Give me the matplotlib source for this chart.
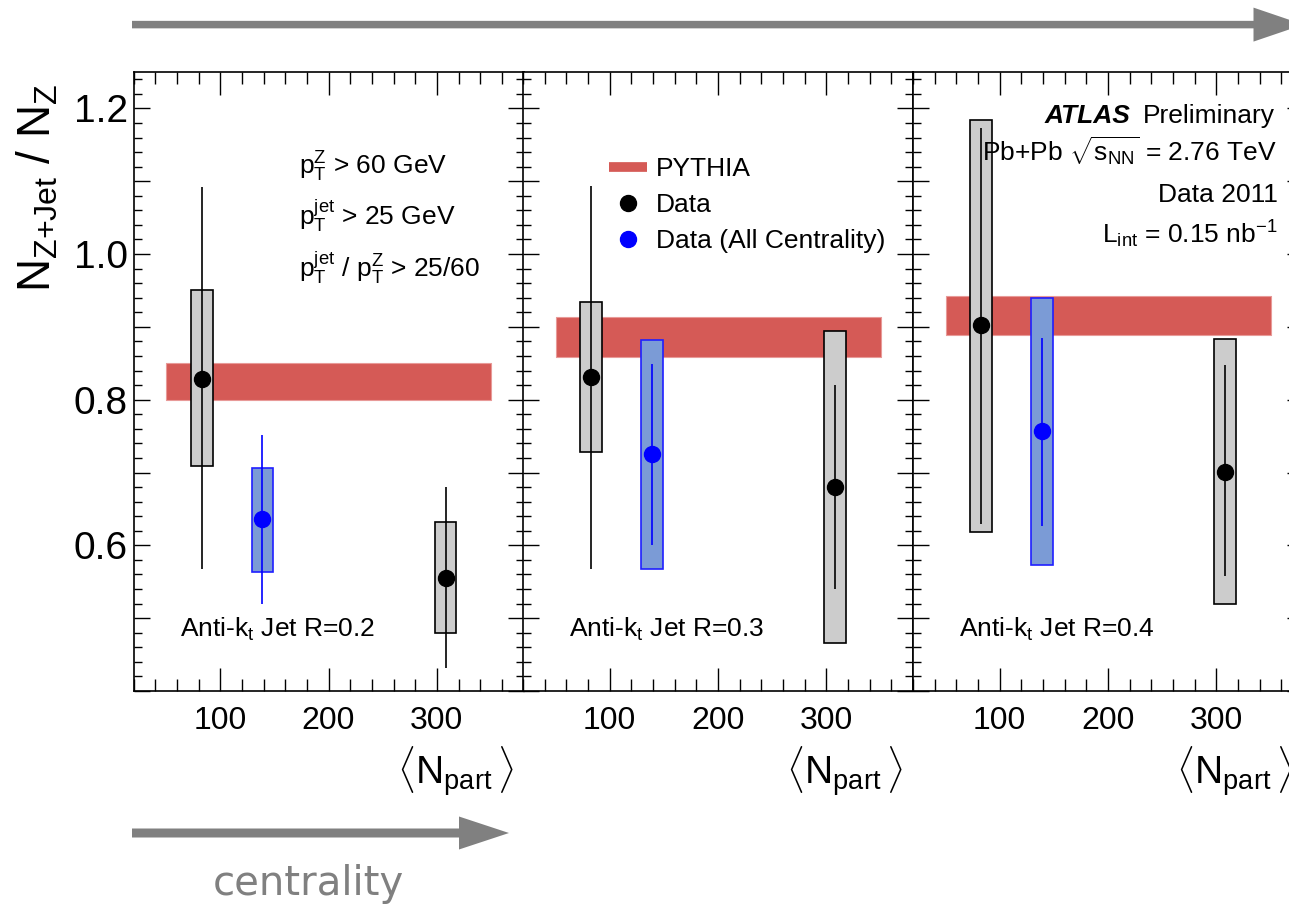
import matplotlib
matplotlib.use("Agg")
import matplotlib.pyplot as plt
import numpy as np
from matplotlib.ticker import MultipleLocator, FuncFormatter
from matplotlib.patches import FancyArrow
from matplotlib.lines import Line2D

plt.rcParams['font.family'] = ['Liberation Sans', 'DejaVu Sans']
plt.rcParams['mathtext.fontset'] = 'custom'
plt.rcParams['mathtext.rm'] = 'Liberation Sans'
plt.rcParams['mathtext.it'] = 'Liberation Sans:italic'
plt.rcParams['mathtext.bf'] = 'Liberation Sans:bold'

# ---------------- data ----------------
npart_bins = [83, 308]          # <Npart> of the two centrality bins
npart_all = [139]               # all-centrality point
radius_labels = ["Anti-k$_{\\mathrm{t}}$ Jet R=0.2",
                 "Anti-k$_{\\mathrm{t}}$ Jet R=0.3",
                 "Anti-k$_{\\mathrm{t}}$ Jet R=0.4"]

# R = 0.2
r02_y = [0.829, 0.555]
r02_sys_lo = [0.709, 0.480]
r02_sys_hi = [0.950, 0.632]
r02_stat_lo = [0.568, 0.431]
r02_stat_hi = [1.092, 0.680]
r02_all_y = [0.636]
r02_all_sys_lo = [0.564]
r02_all_sys_hi = [0.706]
r02_all_stat_lo = [0.520]
r02_all_stat_hi = [0.752]
r02_pythia = [0.800, 0.851]

# R = 0.3
r03_y = [0.831, 0.680]
r03_sys_lo = [0.728, 0.466]
r03_sys_hi = [0.934, 0.894]
r03_stat_lo = [0.568, 0.540]
r03_stat_hi = [1.093, 0.820]
r03_all_y = [0.726]
r03_all_sys_lo = [0.568]
r03_all_sys_hi = [0.882]
r03_all_stat_lo = [0.601]
r03_all_stat_hi = [0.849]
r03_pythia = [0.859, 0.913]

# R = 0.4
r04_y = [0.902, 0.701]
r04_sys_lo = [0.619, 0.520]
r04_sys_hi = [1.184, 0.883]
r04_stat_lo = [0.629, 0.558]
r04_stat_hi = [1.173, 0.847]
r04_all_y = [0.757]
r04_all_sys_lo = [0.573]
r04_all_sys_hi = [0.939]
r04_all_stat_lo = [0.627]
r04_all_stat_hi = [0.885]
r04_pythia = [0.889, 0.943]

pythia_x = [50, 350]
box_width = 20

panels = [
    (r02_y, r02_sys_lo, r02_sys_hi, r02_stat_lo, r02_stat_hi,
     r02_all_y, r02_all_sys_lo, r02_all_sys_hi, r02_all_stat_lo, r02_all_stat_hi, r02_pythia),
    (r03_y, r03_sys_lo, r03_sys_hi, r03_stat_lo, r03_stat_hi,
     r03_all_y, r03_all_sys_lo, r03_all_sys_hi, r03_all_stat_lo, r03_all_stat_hi, r03_pythia),
    (r04_y, r04_sys_lo, r04_sys_hi, r04_stat_lo, r04_stat_hi,
     r04_all_y, r04_all_sys_lo, r04_all_sys_hi, r04_all_stat_lo, r04_all_stat_hi, r04_pythia),
]

# ---------------- figure ----------------
W, H = 1289, 907
fig = plt.figure(figsize=(W / 100, H / 100), dpi=100)

PY_RED = '#D55A56'
GRAY_BOX = '#CCCCCC'
BLUE_BOX = '#7B9BD6'
ARROW = '#808080'

left_px = [133.5, 523, 913]
pw = 390
top_px, bot_px = 72, 691

axes = []
for i, (y, slo, shi, tlo, thi, ay, aslo, ashi, atlo, athi, py) in enumerate(panels):
    ax = fig.add_axes([left_px[i] / W, 1 - bot_px / H, pw / W, (bot_px - top_px) / H])
    axes.append(ax)
    y = np.array(y); slo = np.array(slo); shi = np.array(shi)
    tlo = np.array(tlo); thi = np.array(thi)
    ay = np.array(ay); aslo = np.array(aslo); ashi = np.array(ashi)
    atlo = np.array(atlo); athi = np.array(athi)

    ax.fill_between(pythia_x, [py[0]] * 2, [py[1]] * 2, color=PY_RED,
                    edgecolor='#E89A98', linewidth=0.8, zorder=1)

    ax.bar(npart_bins, shi - slo, bottom=slo, width=box_width, color=GRAY_BOX,
           edgecolor='black', linewidth=1.2, zorder=2)
    ax.bar(npart_all, ashi - aslo, bottom=aslo, width=box_width, color=BLUE_BOX,
           edgecolor='#1F1FFF', linewidth=1.2, zorder=2)

    ax.errorbar(npart_bins, y, yerr=[y - tlo, thi - y], fmt='none', ecolor='black',
                elinewidth=1.2, capsize=0, zorder=3)
    ax.errorbar(npart_all, ay, yerr=[ay - atlo, athi - ay], fmt='none', ecolor='#0000FF',
                elinewidth=1.2, capsize=0, zorder=3)
    ax.plot(npart_bins, y, 'o', color='black', ms=11.5, zorder=4)
    ax.plot(npart_all, ay, 'o', color='#0000FF', ms=11.5, zorder=4)

    ax.set_xlim(20, 380)
    ax.set_ylim(0.4, 1.25)
    ax.xaxis.set_major_locator(MultipleLocator(100))
    ax.xaxis.set_minor_locator(MultipleLocator(20))
    ax.yaxis.set_major_locator(MultipleLocator(0.1))
    ax.yaxis.set_minor_locator(MultipleLocator(0.02))
    ax.tick_params(which='both', direction='in', top=True, right=True, color='black', width=1.0)
    ax.tick_params(axis='x', which='major', length=16.3, labelsize=23, pad=11)
    ax.tick_params(axis='x', which='minor', length=8.6)
    ax.tick_params(axis='y', which='major', length=11.5, labelsize=28, pad=4)
    ax.tick_params(axis='y', which='minor', length=5.8)
    for s in ax.spines.values():
        s.set_linewidth(1.2)
    ax.xaxis.set_major_formatter(FuncFormatter(lambda v, p: '%d' % round(v)))
    if i == 0:
        ax.yaxis.set_major_formatter(FuncFormatter(
            lambda v, p: ('%.1f' % v) if (round(v * 10) % 2 == 0 and v > 0.55) else ''))
    else:
        ax.set_yticklabels([])

    ax.text(0.118, 0.0877, radius_labels[i], transform=ax.transAxes,
            fontsize=19, ha='left', va='baseline')
    ax.text(0.974, -0.152, r'$\langle\mathrm{N_{part}}\,\rangle$', transform=ax.transAxes,
            fontsize=28, ha='right', va='baseline')

# legend in middle panel
handles = [Line2D([], [], color=PY_RED, lw=7, solid_capstyle='butt'),
           Line2D([], [], color='black', marker='o', ls='none', ms=11.5),
           Line2D([], [], color='#0000FF', marker='o', ls='none', ms=11.5)]
axes[1].legend(handles, ['PYTHIA', 'Data', 'Data (All Centrality)'],
               loc='upper left', bbox_to_anchor=(609 / W, 1 - 157 / H),
               bbox_transform=fig.transFigure, frameon=False, fontsize=19,
               handlelength=1.44, handletextpad=0.34, labelspacing=0.46,
               borderpad=0, borderaxespad=0)

# ---------------- overlay (pixel coordinates) ----------------
ov = fig.add_axes([0, 0, 1, 1], zorder=10)
ov.set_xlim(0, W)
ov.set_ylim(H, 0)
ov.axis('off')

ov.add_patch(FancyArrow(132, 24.6, 1253.5 - 132, 0, width=7.5, head_width=34,
                        head_length=50, length_includes_head=False, color=ARROW, lw=0))
ov.add_patch(FancyArrow(132, 833, 459 - 132, 0, width=9, head_width=33,
                        head_length=50, length_includes_head=False, color=ARROW, lw=0))
ov.text(213, 895, 'centrality', color=ARROW, fontsize=29, family='DejaVu Sans',
        ha='left', va='baseline')

ov.text(38, 188, r'$\mathrm{N_{Z{+}Jet}}$ / $\mathrm{N_{Z}}$', fontsize=33, rotation=90,
        ha='center', va='center')

ov.text(299, 175, r'$\mathrm{p_{T}^{Z}}$ > 60 GeV', fontsize=19, ha='left', va='baseline')
ov.text(299, 225, r'$\mathrm{p_{T}^{jet}}$ > 25 GeV', fontsize=19, ha='left', va='baseline')
ov.text(299, 277, r'$\mathrm{p_{T}^{jet}}$ / $\mathrm{p_{T}^{Z}}$ > 25/60', fontsize=19,
        ha='left', va='baseline')

ov.text(1045, 123, 'ATLAS', fontsize=19, fontweight='bold', fontstyle='italic',
        ha='left', va='baseline')
ov.text(1275, 123, 'Preliminary', fontsize=19, ha='right', va='baseline')
ov.text(1277, 162, r'Pb+Pb $\sqrt{\mathrm{s_{NN}}}$ = 2.76 TeV', fontsize=19,
        ha='right', va='baseline')
ov.text(1278, 202, 'Data 2011', fontsize=19, ha='right', va='baseline')
ov.text(1278, 243, r'$\mathrm{L_{int}}$ = 0.15 $\mathrm{nb^{-1}}$', fontsize=19,
        ha='right', va='baseline')

fig.savefig('out.png', dpi=100)
